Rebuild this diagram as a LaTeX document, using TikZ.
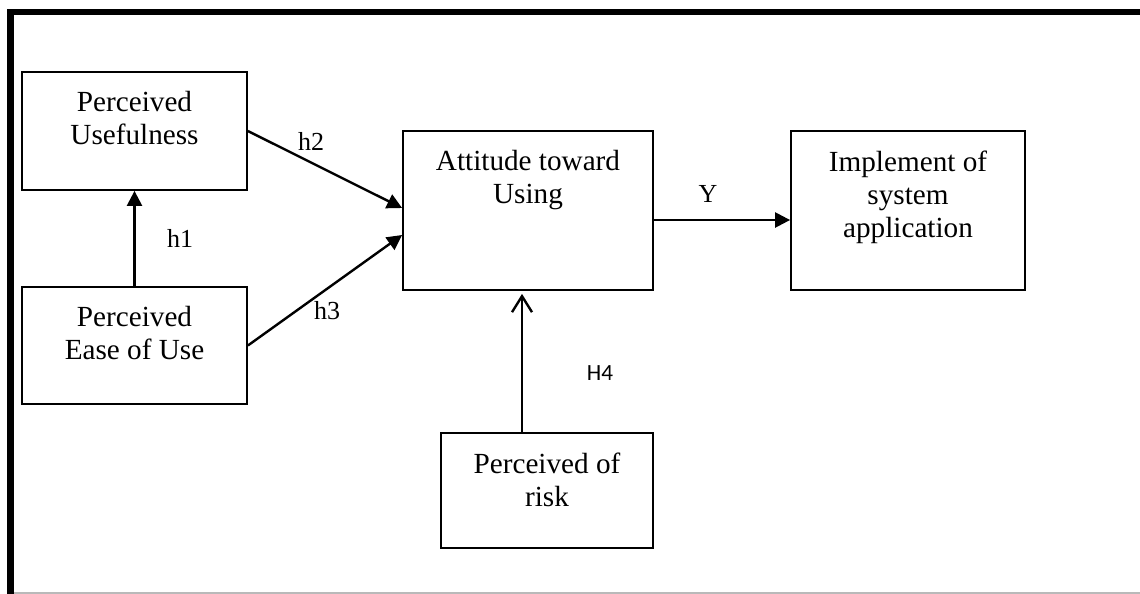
\documentclass[tikz,border=0pt]{standalone}
\usepackage{fontspec}
\setmainfont{Liberation Serif}
\newfontfamily\calibri{Carlito}
\usetikzlibrary{arrows.meta, positioning, calc}
\tikzset{
    box/.style={draw=black, line width=0.9pt, inner sep=0pt},
    boxtext/.style={anchor=north, align=center, inner sep=0pt, yshift=-10pt, font=\fontsize{14.6}{16.6}\selectfont},
    lbl/.style={inner sep=0pt, font=\fontsize{13}{15}\selectfont},
    link/.style={-{Triangle[length=7.5pt, width=7.5pt]}, line width=1.2pt},
    openlink/.style={-{Straight Barb[length=8pt, width=10pt]}, line width=1.2pt}
}

\begin{document}
\begin{tikzpicture}[x=0.5pt, y=-0.5pt]
    \useasboundingbox (0,0) rectangle (1140,594);

    % Rahmen
    \draw[gray!55, line width=0.8pt] (14,593) -- (1140,593);
    \draw[line width=3.3pt] (10.5,594) -- (10.5,12) -- (1140,12);

    % Konstrukte
    \node[box, minimum width=112.5pt, minimum height=59pt, label={[boxtext]north:Perceived\\Usefulness}] (pu) at (134.5,131) {};
    \node[box, minimum width=112.5pt, minimum height=58.5pt, label={[boxtext]north:Perceived\\Ease of Use}] (peou) at (134.5,345.5) {};
    \node[box, minimum width=125pt, minimum height=79.5pt, label={[boxtext]north:Attitude toward\\Using}] (atu) at (528,210.5) {};
    \node[box, minimum width=117pt, minimum height=79.5pt, label={[boxtext]north:Implement of\\system\\application}] (impl) at (908,210.5) {};
    \node[box, minimum width=106pt, minimum height=57.5pt, label={[boxtext]north:Perceived of\\risk}] (risk) at (547,490.5) {};

    % Hypothesen
    \draw[link] (peou.north) -- (pu.south);
    \draw[link] (pu.east) -- ([yshift=1.25pt]atu.west);
    \draw[link] (peou.east) -- ([yshift=-12.25pt]atu.west);
    \draw[link] ([yshift=-4.75pt]atu.east) -- ([yshift=-4.75pt]atu.east -| impl.west);
    \draw[openlink] ([xshift=-12.5pt]risk.north) -- ([xshift=-12.5pt, yshift=-1.5pt]risk.north |- atu.south);

    % Beschriftungen
    \node[lbl] (h1) at (180,238) {h1};
    \node[lbl] (h2) at (311,141) {h2};
    \node[lbl] (h3) at (327,311) {h3};
    \node[lbl] (y) at (708,194) {Y};
    \node[lbl, font=\calibri\fontsize{11.6}{13}\selectfont] (h4) at (600,373) {H4};
\end{tikzpicture}
\end{document}
